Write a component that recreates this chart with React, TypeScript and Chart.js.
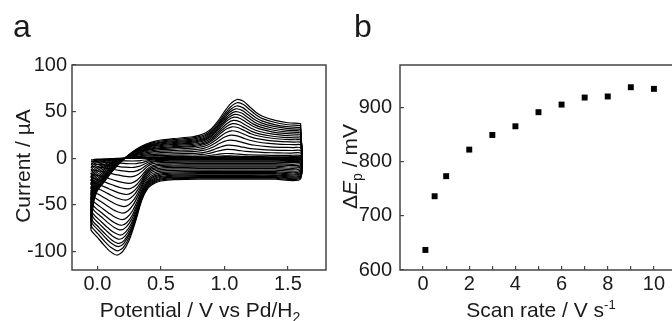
import React, { useEffect, useRef } from 'react';
import { Chart, registerables } from 'chart.js';

Chart.register(...registerables);

// ---------- Panel a: cyclic voltammograms ----------
// Shape of the largest voltammogram (forward sweep)
const templateFwdE = [-0.05, -0.04, -0.03, -0.02, 0.0, 0.05, 0.1, 0.15, 0.2, 0.25, 0.3, 0.35, 0.4, 0.45, 0.5, 0.6, 0.75, 0.8, 0.85, 0.9, 0.95, 1.0, 1.05, 1.1, 1.15, 1.2, 1.25, 1.3, 1.4, 1.5, 1.6, 1.7];
const templateFwdI = [-76, -58, -48, -42, -35, -26, -17, -9, -2, 4, 9, 13, 16, 18, 19.5, 21, 23, 24.5, 27, 32, 40, 50, 58.5, 63, 61, 55, 49, 45, 40.5, 38, 37, 36];
// Reverse sweep of the largest voltammogram
const templateRevE = [1.6, 1.4, 1.2, 1.0, 0.8, 0.6, 0.55, 0.5, 0.45, 0.4, 0.35, 0.3, 0.25, 0.2, 0.155, 0.1, 0.05, 0.0, -0.05, -0.1, -0.15, -0.2];
const templateRevI = [-22, -22.5, -22.5, -22.5, -22.5, -23, -23.5, -24.5, -27, -32, -45, -68, -88, -100, -104, -100, -93, -85, -77, -70, -65, -60];

// Peak currents / potentials of each voltammogram
const anodicPeakI = [63, 59.5, 56, 53, 50, 47, 44, 40.5, 37, 33.7, 29.4, 24.7, 19.4, 14, 9.4, 5, 2.5, 1.6, 1.0, 0.6];
const cathodicPeakI = [-104, -99.5, -95, -91.5, -87, -82.5, -77, -72, -66, -59, -52, -45, -39, -33, -27, -20, -14.5, -10, -6, -3];
const anodicPeakE = [1.1, 1.1, 1.095, 1.09, 1.085, 1.08, 1.075, 1.07, 1.065, 1.06, 1.055, 1.05, 1.04, 1.03, 1.02, 1.01, 1.0, 1.0, 1.0, 1.0];
const cathodicPeakE = [0.155, 0.16, 0.165, 0.17, 0.175, 0.18, 0.185, 0.19, 0.195, 0.2, 0.21, 0.22, 0.23, 0.24, 0.25, 0.26, 0.27, 0.27, 0.28, 0.28];

const switchLow = -0.05;
const switchHigh = 1.6;

const xTicksA = [0, 0.5, 1.0, 1.5];
const xTickLabelsA = ['0.0', '0.5', '1.0', '1.5'];
const yTicksA = [-100, -50, 0, 50, 100];
const yTickLabelsA = ['-100', '-50', '0', '50', '100'];

// ---------- Panel b: peak separation vs scan rate ----------
const scanRates = [0.1, 0.5, 1, 2, 3, 4, 5, 6, 7, 8, 9, 10];
const deltaEp = [637, 736, 773, 822, 849, 865, 891, 905, 918, 920, 937, 934];
const xTicksB = [0, 1, 2, 3, 4, 5, 6, 7, 8, 9, 10];
const xTickLabelsB = ['0', '', '2', '', '4', '', '6', '', '8', '', '10'];
const yTicksB = [600, 700, 800, 900];
const yTickLabelsB = ['600', '700', '800', '900'];

const FONT = '"Liberation Sans", Arial, Helvetica, sans-serif';
const TEXT = '#1a1a1a';
const AXIS = '#444';

const clampE = (e: number) => Math.min(switchHigh, Math.max(switchLow, e));

function buildCurve(i: number) {
  const fwdPeakIdx = templateFwdI.indexOf(Math.max(...templateFwdI));
  const revPeakIdx = templateRevI.indexOf(Math.min(...templateRevI));
  const fwdPeakE = templateFwdE[fwdPeakIdx];
  const revPeakE = templateRevE[revPeakIdx];
  const sa = anodicPeakI[i] / templateFwdI[fwdPeakIdx];
  const sc = cathodicPeakI[i] / templateRevI[revPeakIdx];
  const dA = anodicPeakE[i] - fwdPeakE;
  const dC = cathodicPeakE[i] - revPeakE;
  const pts: { x: number; y: number }[] = [];
  templateFwdE.forEach((e, k) => {
    const w = Math.min(1, Math.max(0, (e - 0.75) / (fwdPeakE - 0.75)));
    const v = templateFwdI[k];
    pts.push({ x: clampE(e + dA * w), y: v < 0 ? v * sc : v * sa });
  });
  templateRevE.forEach((e, k) => {
    const w = Math.min(1, Math.max(0, (0.5 - e) / (0.5 - revPeakE)));
    pts.push({ x: clampE(e + dC * w), y: templateRevI[k] * sc });
  });
  return pts;
}

const framePlugin = {
  id: 'frame',
  afterDraw(chart: any) {
    const { ctx, chartArea } = chart;
    const { left, top, right, bottom } = chartArea;
    ctx.save();
    ctx.strokeStyle = AXIS;
    ctx.lineWidth = 1.5;
    ctx.strokeRect(left, top, right - left, bottom - top);
    ctx.restore();
  },
};

type Part = { t: string; size: number; style?: string; dy?: number };

function drawParts(ctx: CanvasRenderingContext2D, parts: Part[], cx: number, baseY: number) {
  let total = 0;
  const widths = parts.map((p) => {
    ctx.font = `${p.style || ''} ${p.size}px ${FONT}`;
    const w = ctx.measureText(p.t).width;
    total += w;
    return w;
  });
  let x = cx - total / 2;
  ctx.textAlign = 'left';
  ctx.textBaseline = 'alphabetic';
  parts.forEach((p, i) => {
    ctx.font = `${p.style || ''} ${p.size}px ${FONT}`;
    ctx.fillText(p.t, x, baseY + (p.dy || 0));
    x += widths[i];
  });
}

const textPluginA = {
  id: 'textA',
  afterDraw(chart: any) {
    const ctx: CanvasRenderingContext2D = chart.ctx;
    ctx.save();
    ctx.fillStyle = TEXT;
    ctx.font = `32px ${FONT}`;
    ctx.textAlign = 'left';
    ctx.textBaseline = 'alphabetic';
    ctx.fillText('a', 13, 37);
    drawParts(ctx, [
      { t: 'Potential / V vs Pd/H', size: 21 },
      { t: '2', size: 14, dy: 5 },
    ], 200, 317);
    ctx.translate(30, 166);
    ctx.rotate(-Math.PI / 2);
    drawParts(ctx, [{ t: 'Current / µA', size: 21 }], 0, 0);
    ctx.restore();
  },
};

const textPluginB = {
  id: 'textB',
  afterDraw(chart: any) {
    const ctx: CanvasRenderingContext2D = chart.ctx;
    ctx.save();
    ctx.fillStyle = TEXT;
    ctx.font = `32px ${FONT}`;
    ctx.textAlign = 'left';
    ctx.textBaseline = 'alphabetic';
    ctx.fillText('b', 14, 37);
    drawParts(ctx, [
      { t: 'Scan rate / V s', size: 21 },
      { t: '-1', size: 13, dy: -8 },
    ], 201, 317);
    ctx.translate(17, 166.5);
    ctx.rotate(-Math.PI / 2);
    drawParts(ctx, [
      { t: 'Δ', size: 21 },
      { t: 'E', size: 21, style: 'italic' },
      { t: 'p', size: 14, dy: 5 },
      { t: ' / mV', size: 21 },
    ], 0, 0);
    ctx.restore();
  },
};

const tickFont = { family: FONT, size: 20, lineHeight: 1.2 };

function CVChart() {
  const ref = useRef<HTMLCanvasElement>(null);
  useEffect(() => {
    if (!ref.current) return;
    const curves = anodicPeakI.map((_, i) => buildCurve(i));
    const chart = new Chart(ref.current, {
      type: 'scatter',
      data: {
        datasets: curves.map((pts) => ({
          data: pts,
          showLine: true,
          borderColor: '#000',
          borderWidth: 1.2,
          pointRadius: 0,
          tension: 0.25,
          fill: false,
        })),
      },
      options: {
        responsive: false,
        animation: false,
        events: [],
        layout: { padding: { left: 0, right: 14, top: 65, bottom: 0 } },
        plugins: { legend: { display: false }, tooltip: { enabled: false } },
        scales: {
          x: {
            type: 'linear',
            min: -0.2,
            max: 1.8,
            afterBuildTicks: (s: any) => { s.ticks = xTicksA.map((v) => ({ value: v })); },
            afterFit: (s: any) => { s.height = 51; },
            grid: { drawOnChartArea: false, tickLength: -4, color: AXIS, lineWidth: 1.2 },
            border: { display: false },
            ticks: {
              padding: 6, font: tickFont, color: TEXT, maxRotation: 0, autoSkip: false,
              callback: (_v: any, i: number) => xTickLabelsA[i],
            },
          },
          y: {
            type: 'linear',
            min: -120,
            max: 100,
            afterBuildTicks: (s: any) => { s.ticks = yTicksA.map((v) => ({ value: v })); },
            afterFit: (s: any) => { s.width = 72; },
            grid: { drawOnChartArea: false, tickLength: -4, color: AXIS, lineWidth: 1.2 },
            border: { display: false },
            ticks: {
              padding: 9, font: tickFont, color: TEXT, autoSkip: false,
              callback: (_v: any, i: number) => yTickLabelsA[i],
            },
          },
        },
      } as any,
      plugins: [framePlugin, textPluginA],
    });
    return () => chart.destroy();
  }, []);
  return <canvas ref={ref} width={340} height={321} style={{ width: 340, height: 321, display: 'block' }} />;
}

function ScanChart() {
  const ref = useRef<HTMLCanvasElement>(null);
  useEffect(() => {
    if (!ref.current) return;
    const chart = new Chart(ref.current, {
      type: 'scatter',
      data: {
        datasets: [{
          data: scanRates.map((x, i) => ({ x, y: deltaEp[i] })),
          pointStyle: 'rect',
          pointRadius: 4.2,
          backgroundColor: '#000',
          borderColor: '#000',
          borderWidth: 0,
        }],
      },
      options: {
        responsive: false,
        animation: false,
        events: [],
        layout: { padding: { left: 0, right: 8, top: 65, bottom: 0 } },
        plugins: { legend: { display: false }, tooltip: { enabled: false } },
        scales: {
          x: {
            type: 'linear',
            min: -1,
            max: 11,
            afterBuildTicks: (s: any) => { s.ticks = xTicksB.map((v) => ({ value: v })); },
            afterFit: (s: any) => { s.height = 51; },
            grid: { drawOnChartArea: false, tickLength: -4, color: AXIS, lineWidth: 1.2 },
            border: { display: false },
            ticks: {
              padding: 6, font: tickFont, color: TEXT, maxRotation: 0, autoSkip: false,
              callback: (_v: any, i: number) => xTickLabelsB[i],
            },
          },
          y: {
            type: 'linear',
            min: 600,
            max: 978,
            afterBuildTicks: (s: any) => { s.ticks = yTicksB.map((v) => ({ value: v })); },
            afterFit: (s: any) => { s.width = 60; },
            grid: { drawOnChartArea: false, tickLength: -4, color: AXIS, lineWidth: 1.2 },
            border: { display: false },
            ticks: {
              padding: 12, font: tickFont, color: TEXT, autoSkip: false,
              callback: (_v: any, i: number) => yTickLabelsB[i],
            },
          },
        },
      } as any,
      plugins: [framePlugin, textPluginB],
    });
    return () => chart.destroy();
  }, []);
  return <canvas ref={ref} width={345} height={321} style={{ width: 345, height: 321, display: 'block' }} />;
}

export default function App() {
  return (
    <div style={{ position: 'absolute', left: 0, top: 0, width: 672, height: 321, overflow: 'hidden', background: '#fff' }}>
      <div style={{ position: 'absolute', left: 0, top: 0, width: 340, height: 321 }}>
        <CVChart />
      </div>
      <div style={{ position: 'absolute', left: 340, top: 0, width: 332, height: 321, overflow: 'hidden' }}>
        <ScanChart />
      </div>
    </div>
  );
}
